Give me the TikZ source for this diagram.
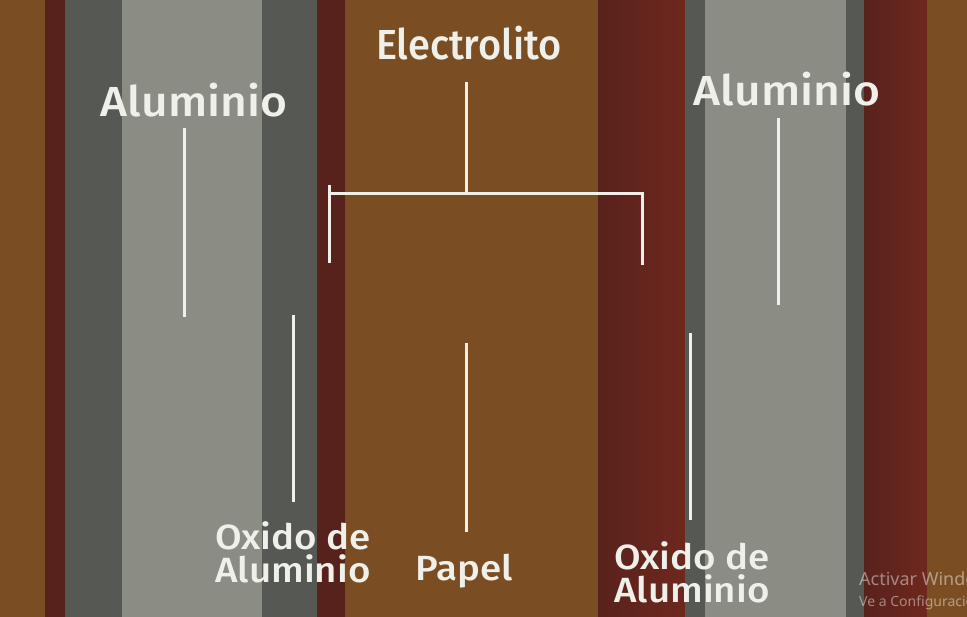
\documentclass[tikz,border=0pt]{standalone}
\usepackage{fontspec}
\setmainfont{Fira Sans}[BoldFont={Fira Sans Medium}]
\newfontfamily\winfont{Noto Sans}
\definecolor{papelbrown}{RGB}{122,78,34}
\definecolor{oxred}{RGB}{88,34,28}
\definecolor{oxredhi}{RGB}{110,40,30}
\definecolor{aldark}{RGB}{86,89,83}
\definecolor{allight}{RGB}{139,141,132}
\definecolor{lbltext}{RGB}{240,240,234}
\begin{document}
\begin{tikzpicture}[x=1pt, y=-1pt,
			redgrad/.style={left color=oxred, right color=oxredhi},
			lbl/.style={text=lbltext, inner sep=0pt, anchor=base, xscale=1.1, font=\bfseries\fontsize{42}{42}\selectfont},
			sublbl/.style={text=lbltext, inner sep=0pt, align=center, xscale=1.1, font=\bfseries\fontsize{35}{33}\selectfont},
			wire/.style={draw=lbltext, line width=3pt},
			winmark/.style={text=white, text opacity=0.45, inner sep=0pt, anchor=base west}]
			\clip (0,0) rectangle (967,617);
			% capas: papel, oxido, aluminio
			\foreach \xa/\xb/\c in {0/45/papelbrown, 45/65/oxred, 65/122/aldark, 122/262/allight,
				262/317/aldark, 317/345/oxred, 345/598/papelbrown, 598/685/redgrad, 685/705/aldark,
				705/846/allight, 846/864/aldark, 864/927/redgrad, 927/967/papelbrown}{
				\fill[\c] (\xa,0) rectangle (\xb,617);
			}
			% etiquetas
			\node[lbl] (alumL) at (194,117) {Aluminio};
			\node[lbl, xscale=0.86] (electro) at (469,60) {Electrolito};
			\node[lbl] (alumR) at (787,106) {Aluminio};
			\node[sublbl, anchor=north] (oxidoL) at (293,521) {Oxido de\\Aluminio};
			\node[sublbl, anchor=base] (papel) at (464,580) {Papel};
			\node[sublbl, anchor=north] (oxidoR) at (692,541) {Oxido de\\Aluminio};
			% lineas
			\coordinate (alumLend) at (184,317);
			\coordinate (alumRend) at (778,305);
			\coordinate (oxidoLtop) at (293,315);
			\coordinate (oxidoRtop) at (690,333);
			\coordinate (papeltop) at (466,343);
			\coordinate (brace) at (466,194);
			\coordinate (braceL) at (329,185);
			\coordinate (braceLend) at (329,263);
			\coordinate (braceRend) at (642,265);
			\draw[wire] (alumLend |- 0,128) -- (alumLend);
			\draw[wire] (alumRend |- 0,118) -- (alumRend);
			\draw[wire] (oxidoLtop) -- (oxidoLtop |- 0,502);
			\draw[wire] (oxidoRtop) -- (oxidoRtop |- 0,520);
			\draw[wire] (papeltop) -- (papeltop |- 0,532);
			\draw[wire] (brace |- 0,82) -- (brace);
			\draw[wire] (braceL) -- (braceLend);
			\draw[wire] (braceLend |- brace) -| (braceRend);
			% marca de agua
			\node[winmark, font=\winfont\fontsize{18}{18}\selectfont] (activar) at (859,585) {Activar Windows};
			\node[winmark, font=\winfont\fontsize{14}{14}\selectfont] (config) at (859,606) {Ve a Configuración para activar Windows.};
		\end{tikzpicture}
\end{document}
